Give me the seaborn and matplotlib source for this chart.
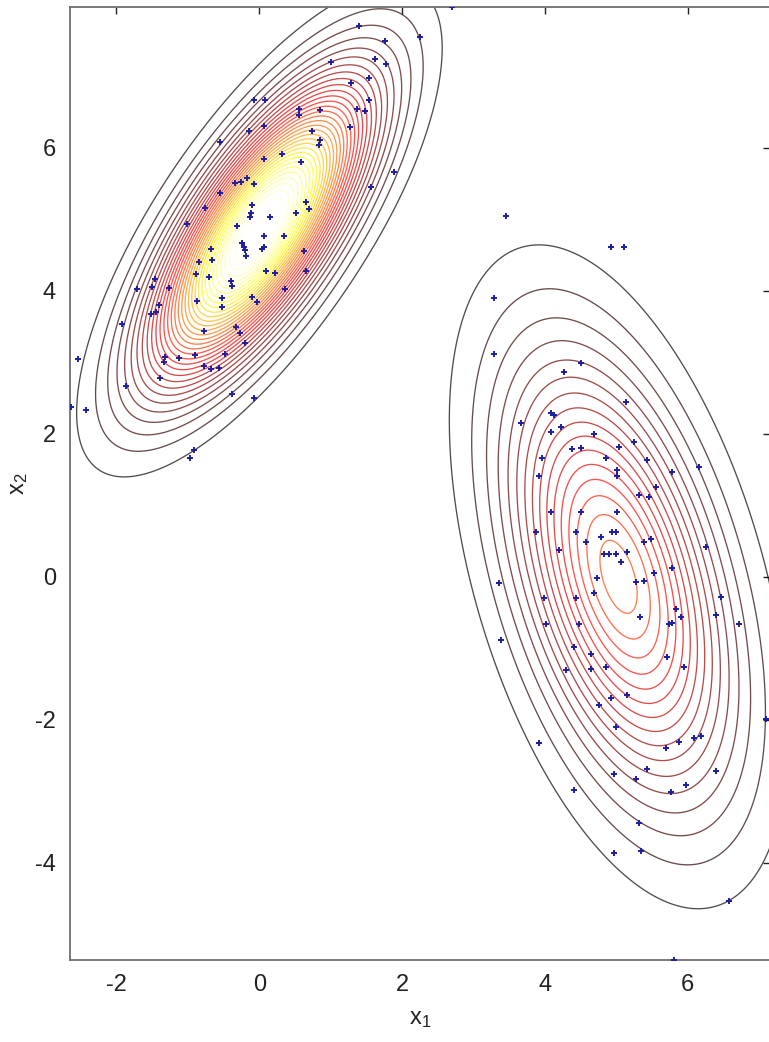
import numpy as np
import matplotlib
matplotlib.use("Agg")
import matplotlib.pyplot as plt
import seaborn as sns
import pandas as pd

# ---- data points ----
left_x = [-0.08, -0.14, -0.55, -0.34, -0.25, -0.17, -0.07, -0.55, -0.76, -0.10, -0.11, -0.13, -1.01, -0.31,
          1.39, 1.76, 2.25, 1.62, 1.78, 1.01, 1.29, 1.54, 0.08, 0.55, 0.55, 0.85, 1.53, 1.37, 1.48, 0.06,
          1.27, 0.74, 0.85, 0.83, 0.32, 0.07, 0.59, 1.89, 1.57, 0.66, 0.69, 0.15, 0.52, 0.07, 0.35, 2.70,
          -0.24, -0.21, -0.20, -0.18, 0.06, 0.04, -0.67, -0.66, -0.84, 0.63, -0.88, -0.71, 0.10, 0.22, 0.66,
          -0.39, -0.38, -1.46, -1.50, -1.71, -1.26, 0.36, -0.87, -0.52, -0.52, -0.10, -0.03, -1.41, -1.44,
          -1.51, -1.92, -0.78, -0.32, -0.27, -0.20, -1.32, -1.33, -1.13, -0.90, -0.48, -0.78, -0.67, -0.56,
          -1.39, -2.54, -1.86, -0.38, -0.07, -2.63, -2.42, -0.91, -0.97]
left_y = [6.67, 6.24, 6.08, 5.51, 5.52, 5.58, 5.50, 5.37, 5.16, 5.20, 5.09, 5.03, 4.94, 4.91,
          7.71, 7.50, 7.55, 7.24, 7.17, 7.20, 6.91, 6.97, 6.67, 6.55, 6.46, 6.53, 6.67, 6.55, 6.52, 6.31,
          6.29, 6.24, 6.11, 6.04, 5.92, 5.85, 5.80, 5.66, 5.45, 5.24, 5.15, 5.03, 5.09, 4.77, 4.77, 7.97,
          4.67, 4.62, 4.57, 4.49, 4.62, 4.59, 4.59, 4.43, 4.41, 4.56, 4.24, 4.20, 4.28, 4.25, 4.28,
          4.14, 4.07, 4.17, 4.06, 4.03, 4.04, 4.03, 3.86, 3.90, 3.78, 3.92, 3.85, 3.80, 3.71,
          3.68, 3.54, 3.44, 3.50, 3.41, 3.27, 3.08, 3.01, 3.06, 3.10, 3.12, 2.95, 2.91, 2.92,
          2.78, 3.05, 2.67, 2.56, 2.50, 2.38, 2.34, 1.78, 1.66]
right_x = [3.45, 4.93, 5.11, 3.29, 3.29, 4.50, 4.26, 5.13, 4.08, 4.13, 3.67, 4.08, 4.22, 4.69, 5.24,
           5.03, 4.38, 4.50, 3.96, 4.86, 5.43, 6.16, 5.78, 3.92, 5.01, 5.01, 5.56, 5.31, 5.46, 4.09,
           4.51, 5.01, 3.88, 4.43, 4.94, 5.00, 4.58, 4.78, 5.39, 5.49, 6.26, 4.20, 4.83, 4.90, 4.99,
           5.15, 5.07, 5.78, 5.53, 4.73, 5.28, 5.38, 3.36, 4.68, 3.99, 4.44, 5.33, 6.47, 6.39, 5.83,
           5.90, 5.78, 5.73, 6.71, 4.02, 4.47, 3.38, 4.41, 4.65, 5.71, 4.86, 4.64, 5.94, 4.30, 4.93,
           5.15, 4.75, 4.99, 7.09, 3.92, 5.70, 5.87, 6.08, 6.19, 5.43, 4.97, 5.27, 6.40, 5.98, 5.77,
           4.41, 5.31, 4.97, 5.34, 6.57, 5.80]
right_y = [5.05, 4.62, 4.62, 3.90, 3.12, 2.99, 2.87, 2.45, 2.29, 2.27, 2.15, 2.03, 2.10, 2.00, 1.89,
           1.82, 1.79, 1.80, 1.66, 1.66, 1.64, 1.54, 1.47, 1.41, 1.50, 1.41, 1.26, 1.15, 1.12, 0.90,
           0.91, 0.91, 0.62, 0.63, 0.63, 0.62, 0.49, 0.55, 0.48, 0.53, 0.41, 0.38, 0.32, 0.32, 0.32,
           0.35, 0.21, 0.13, 0.06, -0.01, -0.07, -0.06, -0.08, -0.22, -0.29, -0.29, -0.56, -0.28, -0.53, -0.45,
           -0.56, -0.64, -0.66, -0.66, -0.66, -0.66, -0.88, -0.98, -1.08, -1.12, -1.26, -1.29, -1.26, -1.31, -1.69,
           -1.65, -1.80, -2.10, -1.99, -2.32, -2.39, -2.31, -2.25, -2.22, -2.69, -2.76, -2.83, -2.71, -2.91, -3.01,
           -2.98, -3.44, -3.87, -3.83, -4.53, -5.36]

# ---- mixture model behind the contours ----
comp_weights = [0.5, 0.5]
comp_means = [[0.0, 4.85], [5.03, 0.0]]
comp_covs = [[[0.927, 0.926], [0.926, 1.69]],
             [[1.00, -0.921], [-0.921, 3.84]]]
n_levels = 33

x_ticks = [-2, 0, 2, 4, 6]
y_ticks = [-4, -2, 0, 2, 4, 6]
x_limits = [-2.65, 7.15]
y_limits = [-5.36, 7.97]

sns.set_theme(style="white")
plt.rcParams["font.family"] = ["Liberation Sans", "DejaVu Sans"]
plt.rcParams["mathtext.default"] = "regular"
plt.rcParams["axes.unicode_minus"] = False

fig = plt.figure(figsize=(7.69, 10.42), dpi=100)
ax = fig.add_axes([70 / 769, 82 / 1042, 700 / 769, 953 / 1042])

gx = np.linspace(x_limits[0], x_limits[1], 500)
gy = np.linspace(y_limits[0], y_limits[1], 680)
X, Y = np.meshgrid(gx, gy)
Z = np.zeros_like(X)
for w, m, c in zip(comp_weights, comp_means, comp_covs):
    c = np.array(c)
    inv = np.linalg.inv(c)
    det = np.linalg.det(c)
    dx = X - m[0]
    dy = Y - m[1]
    q = inv[0, 0] * dx * dx + 2 * inv[0, 1] * dx * dy + inv[1, 1] * dy * dy
    Z += w * np.exp(-0.5 * q) / (2 * np.pi * np.sqrt(det))
levels = np.linspace(Z.min(), Z.max(), n_levels + 2)[1:-1]
ax.contour(X, Y, Z, levels=levels, cmap="hot", linewidths=0.95, alpha=0.7)

pts = pd.DataFrame({"x1": left_x + right_x, "x2": left_y + right_y})
sns.scatterplot(data=pts, x="x1", y="x2", marker="+", s=16, color="#1e1ea0",
                linewidth=1.4, ax=ax, zorder=3)

ax.set_xlim(x_limits)
ax.set_ylim(y_limits)
ax.set_xticks(x_ticks)
ax.set_yticks(y_ticks)
ax.tick_params(direction="in", length=5, width=1, colors="#222222", labelsize=17,
               top=True, right=True, pad=10)
for sp in ax.spines.values():
    sp.set_visible(True)
    sp.set_color("#707070")
    sp.set_linewidth(1.3)
ax.set_xlabel("x$_1$", fontsize=17, color="#222222", labelpad=9)
ax.set_ylabel("x$_2$", fontsize=17, color="#222222", labelpad=4)

fig.savefig("out.png", dpi=100)
